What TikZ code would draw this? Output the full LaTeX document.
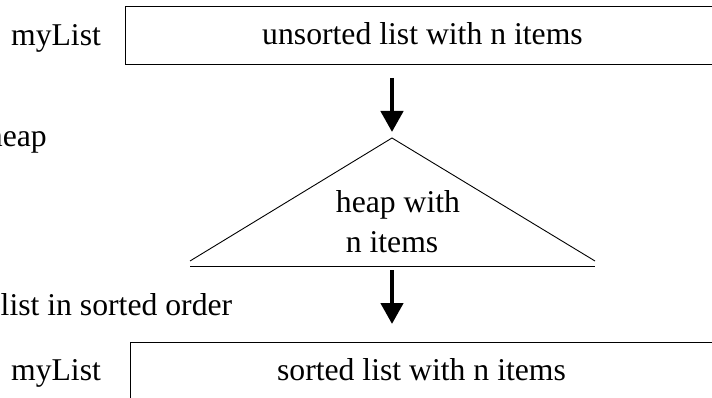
\documentclass[tikz,border=0pt]{standalone}
\usepackage{fontspec}
\setmainfont{Liberation Serif}
\usetikzlibrary{arrows.meta}
\begin{document}
\begin{tikzpicture}[x=1pt,y=-1pt,
  lbl/.style={font=\fontsize{31.7}{38}\selectfont, inner sep=0pt, anchor=base},
  boxnode/.style={draw, line width=1.2pt, inner sep=0pt, minimum width=#1, anchor=north west},
  bigarrow/.style={line width=4.5pt, -{Triangle[length=21pt,width=22pt]}},
  heapline/.style={line width=0.9pt}]
\useasboundingbox (0,0) rectangle (712,398);
% top box
\node[boxnode=594pt, minimum height=58pt] (topbox) at (125,6) {};
\node[lbl] (toptext) at (422.5,45) {unsorted list with n items};
\node[lbl] (topname) at (56,45.5) {myList};
% left labels
\node[lbl, anchor=base east] (heaplbl) at (47,147) {heap};
\node[lbl, anchor=base west] (sortlbl) at (0.5,315) {list in sorted order};
% heap triangle
\coordinate (apex) at (392,138);
\coordinate (bl) at (190,261);
\coordinate (br) at (595,261);
\coordinate (basel) at (190,266);
\coordinate (baser) at (595,266);
\draw[heapline] (bl) -- (apex) -- (br);
\draw[heapline] (basel) -- (baser);
\node[lbl] (heap1) at (398,213) {heap with};
\node[lbl] (heap2) at (392,252) {n items};
% arrows
\coordinate (a1s) at (392,78);
\coordinate (a1e) at (392,132);
\coordinate (a2s) at (392,270);
\coordinate (a2e) at (392,324);
\draw[bigarrow] (a1s) -- (a1e);
\draw[bigarrow] (a2s) -- (a2e);
% bottom box
\node[boxnode=590pt, minimum height=70pt] (botbox) at (130,342) {};
\node[lbl] (bottext) at (421.5,380) {sorted list with n items};
\node[lbl] (botname) at (56,380.5) {myList};
\end{tikzpicture}
\end{document}
